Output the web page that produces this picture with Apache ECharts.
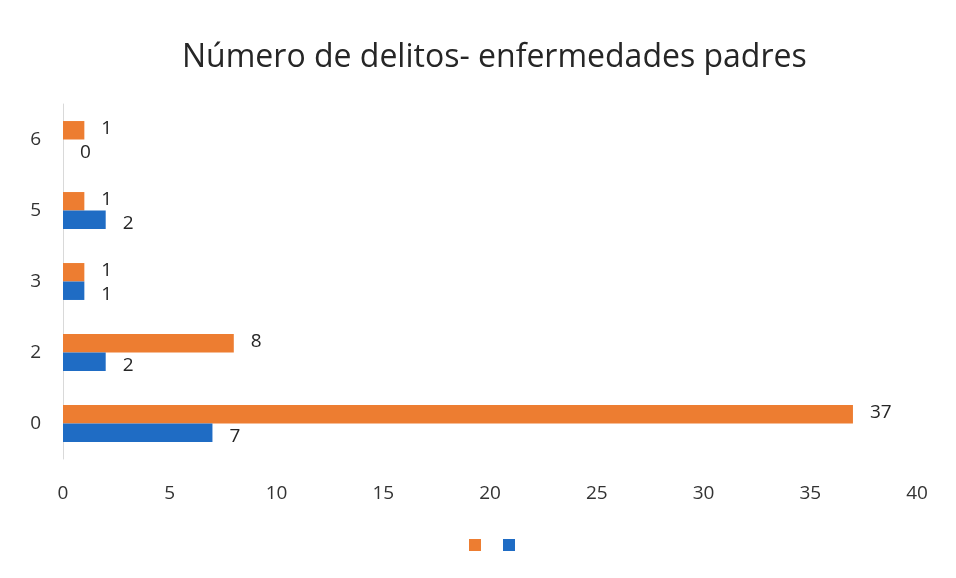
<!DOCTYPE html>
<html>
<head>
<meta charset="utf-8">
<script src="https://cdn.jsdelivr.net/npm/echarts@6/dist/echarts.min.js"></script>
<style>
  html, body { margin: 0; padding: 0; background: #fff; }
  #chart { width: 956px; height: 578px; }
</style>
</head>
<body>
<div id="chart"></div>
<script>
const categories = ['0', '2', '3', '5', '6'];
const orangeValues = [37, 8, 1, 1, 1];
const blueValues = [7, 2, 1, 2, 0];
const xTicks = { min: 0, max: 40, interval: 5 };

const chart = echarts.init(document.getElementById('chart'));

const labelStyle = {
  show: true,
  position: 'right',
  distance: 17,
  color: '#262626',
  fontSize: 19,
  fontFamily: 'Open Sans'
};

chart.setOption({
  backgroundColor: '#fff',
  title: {
    text: 'Número de delitos- enfermedades padres',
    left: 177,
    top: 37,
    textStyle: {
      fontFamily: 'Open Sans',
      fontWeight: 'normal',
      fontSize: 32,
      color: '#262626'
    }
  },
  legend: {
    bottom: 22,
    left: 464,
    itemWidth: 12,
    itemHeight: 12,
    itemGap: 22,
    icon: 'rect',
    formatter: () => '',
    data: ['a', 'b']
  },
  grid: {
    left: 63,
    right: 39,
    top: 104,
    height: 355,
    containLabel: false
  },
  xAxis: {
    type: 'value',
    min: xTicks.min,
    max: xTicks.max,
    interval: xTicks.interval,
    axisLine: { show: false },
    axisTick: { show: false },
    splitLine: { show: false },
    axisLabel: {
      margin: 25,
      color: '#333',
      fontSize: 19,
      fontFamily: 'Open Sans'
    }
  },
  yAxis: {
    type: 'category',
    data: categories,
    axisLine: { show: true, lineStyle: { color: '#d9d9d9', width: 1 } },
    axisTick: { show: false },
    axisLabel: {
      margin: 22,
      color: '#333',
      fontSize: 19,
      fontFamily: 'Open Sans'
    }
  },
  series: [
    {
      name: 'a',
      type: 'bar',
      data: orangeValues,
      itemStyle: { color: '#ED7D31' },
      barGap: '0%',
      barCategoryGap: '48%',
      label: Object.assign({}, labelStyle, { offset: [0, -2] })
    },
    {
      name: 'b',
      type: 'bar',
      data: blueValues,
      itemStyle: { color: '#1F6CC4' },
      barGap: '0%',
      barCategoryGap: '48%',
      label: Object.assign({}, labelStyle, { offset: [0, 4] })
    }
  ]
});
</script>
</body>
</html>
